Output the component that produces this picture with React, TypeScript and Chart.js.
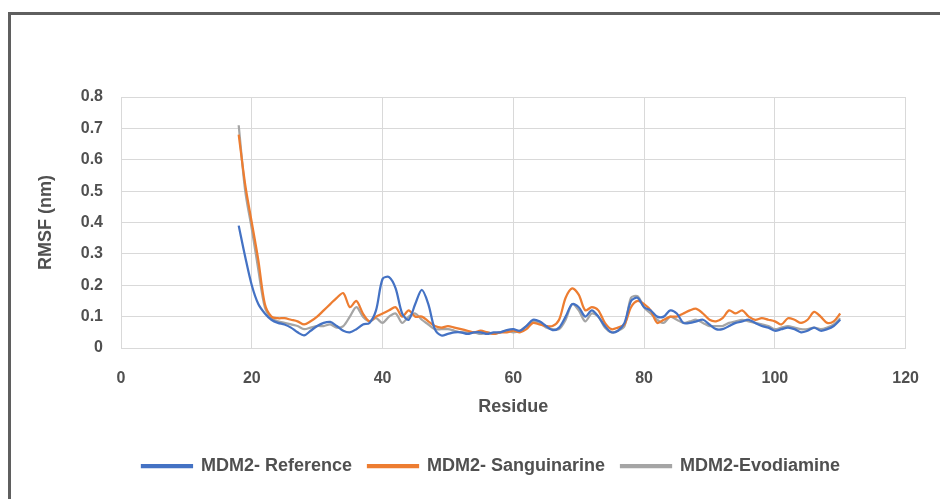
import React, { useEffect, useRef } from "react";
import { Chart, registerables } from "chart.js";

Chart.register(...registerables);

const residues = [
  18, 19, 20, 21, 22, 23, 24, 25, 26, 27, 28, 29, 30, 31, 32, 33, 34, 35, 36, 37,
  38, 39, 40, 41, 42, 43, 44, 45, 46, 47, 48, 49, 50, 51, 52, 53, 54, 55, 56, 57,
  58, 59, 60, 61, 62, 63, 64, 65, 66, 67, 68, 69, 70, 71, 72, 73, 74, 75, 76, 77,
  78, 79, 80, 81, 82, 83, 84, 85, 86, 87, 88, 89, 90, 91, 92, 93, 94, 95, 96, 97,
  98, 99, 100, 101, 102, 103, 104, 105, 106, 107, 108, 109, 110,
];

const referenceRmsf = [
  0.39, 0.29, 0.2, 0.14, 0.11, 0.09, 0.08, 0.075, 0.065, 0.05, 0.04, 0.055, 0.07, 0.08, 0.083, 0.07, 0.055, 0.05, 0.06, 0.075,
  0.08, 0.12, 0.22, 0.226, 0.19, 0.11, 0.09, 0.14, 0.185, 0.14, 0.06, 0.04, 0.045, 0.05, 0.05, 0.045, 0.05, 0.05, 0.045, 0.05,
  0.05, 0.057, 0.06, 0.055, 0.07, 0.09, 0.085, 0.07, 0.057, 0.065, 0.1, 0.14, 0.13, 0.1, 0.12, 0.1, 0.07, 0.05, 0.055, 0.08,
  0.15, 0.16, 0.13, 0.12, 0.1, 0.1, 0.12, 0.11, 0.08, 0.08, 0.085, 0.09, 0.075, 0.06, 0.06, 0.07, 0.08, 0.085, 0.09, 0.08,
  0.07, 0.065, 0.055, 0.06, 0.065, 0.06, 0.05, 0.055, 0.065, 0.055, 0.06, 0.07, 0.09,
];

const sanguinarineRmsf = [
  0.68, 0.52, 0.4, 0.28, 0.14, 0.1, 0.095, 0.095, 0.09, 0.085, 0.075, 0.085, 0.1, 0.12, 0.14, 0.16, 0.175, 0.13, 0.15, 0.11,
  0.085, 0.1, 0.11, 0.12, 0.13, 0.1, 0.12, 0.1, 0.1, 0.085, 0.07, 0.065, 0.07, 0.065, 0.06, 0.055, 0.05, 0.055, 0.05, 0.045,
  0.05, 0.05, 0.055, 0.05, 0.06, 0.08, 0.075, 0.07, 0.07, 0.09, 0.16, 0.19, 0.17, 0.12, 0.13, 0.12, 0.08, 0.06, 0.065, 0.075,
  0.13, 0.15, 0.14, 0.12, 0.08, 0.09, 0.1, 0.1, 0.11, 0.12, 0.125, 0.11, 0.09, 0.085, 0.095, 0.12, 0.11, 0.12, 0.1, 0.09,
  0.095, 0.09, 0.085, 0.075, 0.095, 0.09, 0.08, 0.09, 0.115, 0.1, 0.08, 0.085, 0.11,
];

const evodiamineRmsf = [
  0.71, 0.5, 0.38, 0.25, 0.13, 0.095, 0.085, 0.08, 0.075, 0.07, 0.06, 0.065, 0.07, 0.07, 0.075, 0.065, 0.07, 0.1, 0.13, 0.1,
  0.085, 0.095, 0.08, 0.1, 0.11, 0.08, 0.1, 0.11, 0.09, 0.075, 0.06, 0.06, 0.06, 0.055, 0.05, 0.05, 0.05, 0.045, 0.05, 0.045,
  0.05, 0.055, 0.05, 0.055, 0.07, 0.085, 0.08, 0.065, 0.06, 0.06, 0.09, 0.14, 0.12, 0.085, 0.11, 0.1, 0.065, 0.05, 0.055, 0.07,
  0.16, 0.165, 0.13, 0.11, 0.09, 0.08, 0.1, 0.09, 0.08, 0.085, 0.09, 0.08, 0.07, 0.07, 0.07, 0.08, 0.085, 0.09, 0.085, 0.08,
  0.075, 0.07, 0.06, 0.065, 0.07, 0.065, 0.06, 0.06, 0.065, 0.06, 0.065, 0.075, 0.095,
];

const seriesNames = ["MDM2- Reference", "MDM2- Sanguinarine", "MDM2-Evodiamine"];
const seriesColors = ["#4472C4", "#ED7D31", "#A5A5A5"];
const yTickLabels = ["0", "0.1", "0.2", "0.3", "0.4", "0.5", "0.6", "0.7", "0.8"];
const xTickLabels = ["0", "20", "40", "60", "80", "100", "120"];
const xTitle = "Residue";
const yTitle = "RMSF (nm)";

const FONT = "'Liberation Sans', Arial, sans-serif";
const TEXT = "#505050";

export default function App() {
  const ref = useRef<HTMLCanvasElement | null>(null);

  useEffect(() => {
    const canvas = ref.current;
    if (!canvas) return;
    const allSeries = [referenceRmsf, sanguinarineRmsf, evodiamineRmsf];
    const chart = new Chart(canvas, {
      type: "line",
      data: {
        datasets: allSeries.map((vals, i) => ({
          label: seriesNames[i],
          data: residues.map((r, j) => ({ x: r, y: vals[j] })),
          borderColor: seriesColors[i],
          backgroundColor: seriesColors[i],
          borderWidth: 2.25,
          pointRadius: 0,
          tension: 0.3,
          fill: false,
        })),
      },
      options: {
        responsive: false,
        animation: false,
        layout: { padding: { top: 97, right: 0, left: 42, bottom: 14 } },
        plugins: {
          tooltip: { enabled: false },
          legend: {
            position: "bottom",
            labels: {
              boxWidth: 50,
              boxHeight: 2,
              padding: 16,
              color: TEXT,
              font: { family: FONT, size: 18, weight: "bold" },
            },
          },
        },
        scales: {
          x: {
            type: "linear",
            min: 0,
            max: 120,
            afterFit: (s: any) => {
              s.height = 93;
            },
            ticks: {
              stepSize: 20,
              padding: 21,
              color: TEXT,
              font: { family: FONT, size: 16, weight: "bold" },
              callback: (v: any) => xTickLabels[Math.round(Number(v) / 20)] ?? "",
            },
            grid: { color: "#d9d9d9", lineWidth: 1, drawTicks: false },
            border: { display: true, color: "#d9d9d9" },
            title: {
              display: true,
              text: xTitle,
              color: TEXT,
              font: { family: FONT, size: 18, weight: "bold" },
              padding: { top: 0, bottom: 23.2 },
            },
          },
          y: {
            min: 0,
            max: 0.8,
            afterFit: (s: any) => {
              s.width = 79;
            },
            ticks: {
              stepSize: 0.1,
              padding: 18,
              color: TEXT,
              font: { family: FONT, size: 16, weight: "bold" },
              callback: (v: any) => yTickLabels[Math.round(Number(v) * 10)] ?? "",
            },
            grid: { color: "#d9d9d9", lineWidth: 1, drawTicks: false },
            border: { display: true, color: "#d9d9d9" },
            title: {
              display: true,
              text: yTitle,
              color: TEXT,
              font: { family: FONT, size: 18, weight: "bold" },
              padding: { top: -6.8, bottom: 0 },
            },
          },
          yRight: {
            position: "right",
            display: true,
            afterFit: (s: any) => {
              s.width = 31;
            },
            ticks: { display: false },
            grid: { display: false, drawTicks: false },
            border: { display: false },
            title: { display: false },
          },
        },
      },
    });
    return () => chart.destroy();
  }, []);

  return (
    <div
      style={{
        position: "fixed",
        left: 0,
        top: 0,
        width: 940,
        height: 499,
        overflow: "hidden",
        background: "#fff",
      }}
    >
      <canvas
        ref={ref}
        width={940}
        height={499}
        style={{ position: "absolute", left: 0, top: 0, width: 940, height: 499 }}
      />
      <div
        style={{
          position: "absolute",
          left: 8,
          top: 12,
          width: 960,
          height: 520,
          borderLeft: "3px solid #5f5f5f",
          borderTop: "3px solid #5f5f5f",
          pointerEvents: "none",
        }}
      />
    </div>
  );
}
